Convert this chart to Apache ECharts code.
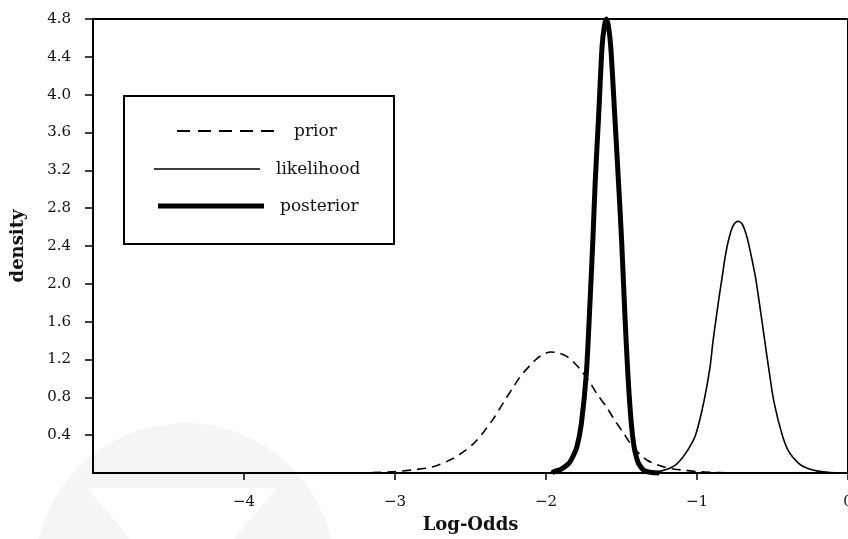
<!DOCTYPE html>
<html>
<head>
<meta charset="utf-8">
<script src="https://cdn.jsdelivr.net/npm/echarts@6/dist/echarts.min.js"></script>
<style>
  html, body { margin: 0; padding: 0; background: #fff; }
  #chart { width: 848px; height: 539px; }
</style>
</head>
<body>
<div id="chart"></div>
<script>
// Density curves on the log-odds scale: [log-odds, density]
const priorPts = [
  [-3.25, 0.0], [-3.15, 0.005], [-3.0, 0.015], [-2.9, 0.03], [-2.8, 0.05],
  [-2.72, 0.08], [-2.62, 0.15], [-2.55, 0.22], [-2.48, 0.31], [-2.41, 0.44],
  [-2.35, 0.57], [-2.28, 0.75], [-2.22, 0.90], [-2.17, 1.02], [-2.11, 1.13],
  [-2.06, 1.21], [-2.01, 1.26], [-1.97, 1.28], [-1.92, 1.27], [-1.86, 1.23],
  [-1.81, 1.16], [-1.77, 1.09], [-1.71, 0.96], [-1.66, 0.83], [-1.60, 0.70],
  [-1.55, 0.57], [-1.49, 0.43], [-1.44, 0.31], [-1.38, 0.20], [-1.33, 0.135],
  [-1.27, 0.09], [-1.22, 0.065], [-1.15, 0.04], [-1.09, 0.03], [-1.0, 0.015],
  [-0.9, 0.008], [-0.8, 0.0]
];
const likelihoodPts = [
  [-1.35, 0.0], [-1.28, 0.01], [-1.24, 0.02], [-1.18, 0.05], [-1.13, 0.10],
  [-1.07, 0.22], [-1.01, 0.40], [-0.955, 0.75], [-0.915, 1.105], [-0.893, 1.405],
  [-0.866, 1.72], [-0.85, 1.90], [-0.833, 2.075], [-0.816, 2.26], [-0.80, 2.40],
  [-0.785, 2.50], [-0.77, 2.58], [-0.755, 2.63], [-0.74, 2.655], [-0.728, 2.66],
  [-0.716, 2.655], [-0.70, 2.63], [-0.685, 2.575], [-0.67, 2.50], [-0.655, 2.40],
  [-0.64, 2.29], [-0.625, 2.17], [-0.613, 2.075], [-0.58, 1.72], [-0.552, 1.405],
  [-0.525, 1.105], [-0.49, 0.75], [-0.435, 0.40], [-0.39, 0.22], [-0.325, 0.10],
  [-0.27, 0.05], [-0.20, 0.02], [-0.12, 0.005], [-0.05, 0.0], [0.0, 0.0]
];
const posteriorPts = [
  [-1.96, 0.0], [-1.94, 0.02], [-1.90, 0.04], [-1.85, 0.10], [-1.82, 0.18],
  [-1.795, 0.28], [-1.766, 0.52], [-1.733, 1.05], [-1.71, 1.76], [-1.69, 2.45],
  [-1.674, 3.08], [-1.651, 3.79], [-1.629, 4.50], [-1.614, 4.72], [-1.60, 4.80],
  [-1.586, 4.72], [-1.571, 4.50], [-1.545, 3.79], [-1.52, 3.08], [-1.499, 2.45],
  [-1.48, 1.76], [-1.458, 1.05], [-1.435, 0.52], [-1.417, 0.28], [-1.40, 0.16],
  [-1.387, 0.10], [-1.36, 0.04], [-1.34, 0.02], [-1.30, 0.005], [-1.25, 0.0]
];
const xTicks = [-4, -3, -2, -1, 0];
const yTicks = [0.4, 0.8, 1.2, 1.6, 2.0, 2.4, 2.8, 3.2, 3.6, 4.0, 4.4, 4.8];
const seriesNames = ['prior', 'likelihood', 'posterior'];

const FONT = 'DejaVu Serif';
const chart = echarts.init(document.getElementById('chart'), null, { renderer: 'canvas' });

const minusFmt = v => (v < 0 ? '\u2212' + Math.abs(v) : String(v));

const option = {
  backgroundColor: '#ffffff',
  animation: false,
  grid: {
    left: 93, right: 0, top: 19, bottom: 66,
    outerBoundsMode: 'none', containLabel: false,
    show: true, borderColor: '#000', borderWidth: 2, backgroundColor: 'transparent'
  },
  xAxis: {
    type: 'value', min: -5, max: 0, interval: 1,
    name: 'Log-Odds', nameLocation: 'middle', nameGap: 43,
    nameTextStyle: { fontFamily: FONT, fontWeight: 'bold', fontSize: 18, color: '#111' },
    axisLine: { show: true, onZero: false, lineStyle: { color: '#000', width: 2 } },
    axisTick: { show: true, length: 7, customValues: xTicks, lineStyle: { color: '#000', width: 1.5 } },
    axisLabel: {
      customValues: xTicks, margin: 22, formatter: minusFmt,
      fontFamily: FONT, fontSize: 15, color: '#111'
    },
    splitLine: { show: false }
  },
  yAxis: {
    type: 'value', min: 0, max: 4.8, interval: 0.4,
    name: 'density', nameLocation: 'middle', nameGap: 66, nameRotate: 90,
    nameTextStyle: { fontFamily: FONT, fontWeight: 'bold', fontSize: 18, color: '#111' },
    axisLine: { show: true, onZero: false, lineStyle: { color: '#000', width: 2 } },
    axisTick: { show: true, length: 8, customValues: yTicks, lineStyle: { color: '#000', width: 1.5 } },
    axisLabel: {
      customValues: yTicks, margin: 22, formatter: v => v.toFixed(1),
      fontFamily: FONT, fontSize: 15, color: '#111'
    },
    splitLine: { show: false }
  },
  series: [
    {
      name: seriesNames[0], type: 'line', data: priorPts, showSymbol: false,
      smooth: 0.3, clip: false, z: 3,
      lineStyle: { color: '#000', width: 1.6, type: [9, 6] }
    },
    {
      name: seriesNames[1], type: 'line', data: likelihoodPts, showSymbol: false,
      smooth: 0.3, clip: false, z: 3,
      lineStyle: { color: '#000', width: 1.6 }
    },
    {
      name: seriesNames[2], type: 'line', data: posteriorPts, showSymbol: false,
      smooth: 0.3, clip: false, z: 4,
      lineStyle: { color: '#000', width: 5 }
    }
  ],
  graphic: [
    // faint emblem behind the lower left of the chart
    {
      type: 'group', silent: true, z: -10,
      children: [
        { type: 'circle', shape: { cx: 185, cy: 573, r: 150 }, style: { fill: '#f5f5f5' }, z: -10 },
        { type: 'polygon', shape: { points: [[87, 488], [277, 488], [182, 600]] }, style: { fill: '#ffffff' }, z: -9 }
      ]
    },
    // legend box
    {
      type: 'rect', shape: { x: 124, y: 96, width: 270, height: 148 },
      style: { fill: '#fff', stroke: '#000', lineWidth: 2 }, z: 10
    },
    {
      type: 'line', shape: { x1: 177, y1: 131, x2: 282, y2: 131 },
      style: { stroke: '#000', lineWidth: 1.8, lineDash: [13, 8] }, z: 11
    },
    {
      type: 'line', shape: { x1: 154, y1: 169, x2: 260, y2: 169 },
      style: { stroke: '#000', lineWidth: 1.6 }, z: 11
    },
    {
      type: 'line', shape: { x1: 158, y1: 206, x2: 264, y2: 206 },
      style: { stroke: '#000', lineWidth: 5 }, z: 11
    },
    {
      type: 'text', x: 294, y: 132, z: 11,
      style: { text: seriesNames[0], font: '17px "DejaVu Serif"', fill: '#111', verticalAlign: 'middle' }
    },
    {
      type: 'text', x: 276, y: 170, z: 11,
      style: { text: seriesNames[1], font: '17px "DejaVu Serif"', fill: '#111', verticalAlign: 'middle' }
    },
    {
      type: 'text', x: 280, y: 207, z: 11,
      style: { text: seriesNames[2], font: '17px "DejaVu Serif"', fill: '#111', verticalAlign: 'middle' }
    }
  ]
};

chart.setOption(option);
</script>
</body>
</html>
